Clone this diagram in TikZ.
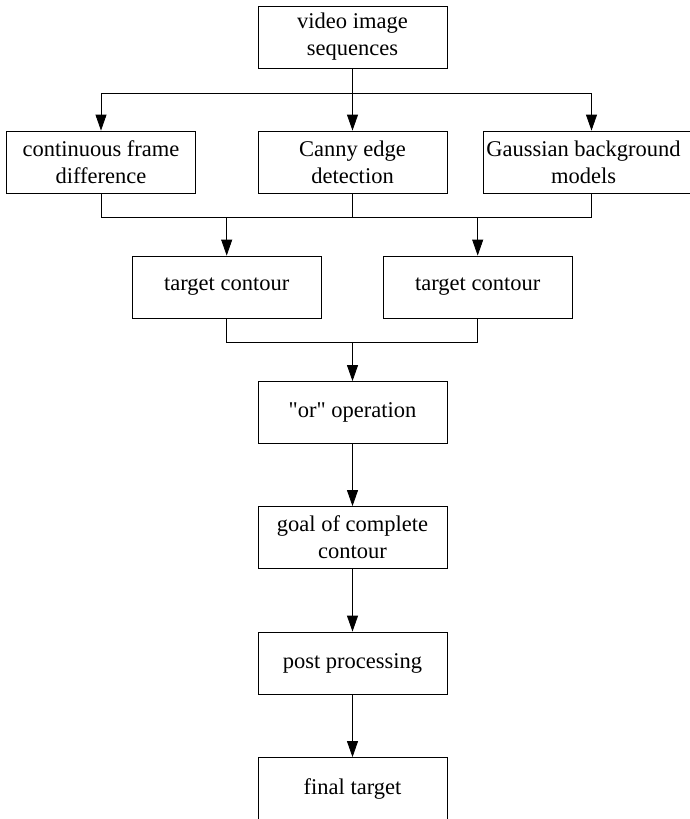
\documentclass[tikz,border=0pt]{standalone}
\usepackage{fontspec}
\setmainfont{Liberation Serif}[Ligatures=TeXOff]
\usetikzlibrary{arrows.meta}
\begin{document}
\begin{tikzpicture}[x=1pt,y=-1pt,
  box/.style={draw, line width=0.8pt, minimum width=189pt, minimum height=62pt, align=center, inner sep=0pt, font=\fontsize{22.5}{27}\selectfont},
  arr/.style={-{Triangle[length=16pt,width=11pt]}, line width=0.8pt},
  ln/.style={line width=0.8pt}]
\useasboundingbox (0,0) rectangle (689,819);
\node[box] (v) at (352.5,37) {video image\\sequences};
\node[box] (c) at (101,162) {continuous frame\\difference};
\node[box] (k) at (352.5,162) {Canny edge\\detection};
\node[box, minimum width=217pt] (g) at (591.5,162) {Gaussian background\hspace*{16pt}\\models\hspace*{16pt}};
\node[box] (tc1) at (226.7,287) {target contour};
\node[box] (tc2) at (477.7,287) {target contour};
\node[box] (o) at (352.5,412.5) {"or" operation};
\node[box] (gl) at (352.5,537.5) {goal of complete\\contour};
\node[box] (p) at (352.5,663) {post processing};
\node[box] (f) at (352.5,788.5) {final target};
\coordinate (t1) at (352.5,93);
\coordinate (t2) at (352.5,217);
\coordinate (t3) at (352.5,342);
\draw[arr] (v.south) -- (k.north);
\draw[ln] (c.north |- t1) -- (g.north |- t1);
\draw[arr] (c.north |- t1) -- (c.north);
\draw[arr] (g.north |- t1) -- (g.north);
\draw[ln] (c.south) -- (c.south |- t2) -- (g.south |- t2) -- (g.south);
\draw[ln] (k.south) -- (t2);
\draw[arr] (tc1.north |- t2) -- (tc1.north);
\draw[arr] (tc2.north |- t2) -- (tc2.north);
\draw[ln] (tc1.south) -- (tc1.south |- t3) -- (tc2.south |- t3) -- (tc2.south);
\draw[arr] (t3) -- (o.north);
\draw[arr] (o.south) -- (gl.north);
\draw[arr] (gl.south) -- (p.north);
\draw[arr] (p.south) -- (f.north);
\end{tikzpicture}
\end{document}
